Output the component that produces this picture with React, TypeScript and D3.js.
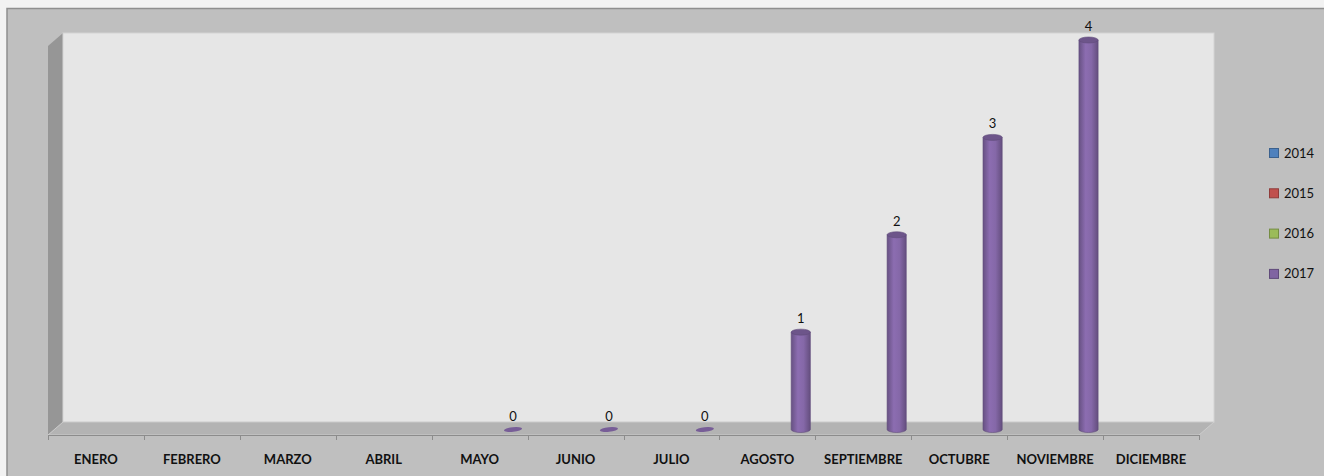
import { useEffect, useRef } from 'react'
import * as d3 from 'd3'

const MONTHS = ['ENERO', 'FEBRERO', 'MARZO', 'ABRIL', 'MAYO', 'JUNIO', 'JULIO', 'AGOSTO', 'SEPTIEMBRE', 'OCTUBRE', 'NOVIEMBRE', 'DICIEMBRE']
const SERIES = ['2014', '2015', '2016', '2017']
const COLORS = ['#4f81bd', '#c0504d', '#9bbb59', '#8064a2']
const V2014: (number | null)[] = [null, null, null, null, null, null, null, null, null, null, null, null]
const V2015: (number | null)[] = [null, null, null, null, null, null, null, null, null, null, null, null]
const V2016: (number | null)[] = [null, null, null, null, null, null, null, null, null, null, null, null]
const V2017: (number | null)[] = [null, null, null, null, 0, 0, 0, 1, 2, 3, 4, null]

export default function App() {
  const svgRef = useRef<SVGSVGElement>(null)

  useEffect(() => {
    const svg = d3.select(svgRef.current)
    svg.selectAll('*').remove()
    const W = 1324, H = 476
    const font = 'Lato, "Open Sans", sans-serif'

    // page + chart frame
    svg.append('rect').attr('width', W).attr('height', H).attr('fill', '#f2f2f2')
    svg.append('rect').attr('x', 7).attr('y', 8.5).attr('width', W).attr('height', H)
      .attr('fill', '#bfbfbf').attr('stroke', '#8e8e8e').attr('stroke-width', 1.5)

    // 3D walls
    const fx0 = 48, fx1 = 1199, fy = 435, depth = 15, dy = 13
    const bx0 = fx0 + depth, bx1 = fx1 + depth, by = fy - dy, top = 33
    const defs = svg.append('defs')
    // side wall
    svg.append('path')
      .attr('d', `M${fx0},${top + dy} L${bx0},${top} L${bx0},${by} L${fx0},${fy} Z`)
      .attr('fill', '#969696')
    // back wall
    svg.append('rect').attr('x', bx0).attr('y', top).attr('width', bx1 - bx0).attr('height', by - top)
      .attr('fill', '#e6e6e6').attr('stroke', '#d4d4d4').attr('stroke-width', 1)
    // floor
    svg.append('path')
      .attr('d', `M${fx0},${fy} L${bx0},${by} L${bx1},${by} L${fx1},${fy} Z`)
      .attr('fill', '#b3b3b3').attr('stroke', '#d0d0d0').attr('stroke-width', 0.8)

    const x = d3.scaleBand<string>().domain(MONTHS).range([fx0, fx1])
    const bw = x.bandwidth()
    const sub = d3.scaleBand<string>().domain(SERIES).range([bw * 0.07, bw * 0.87])
    const y = d3.scaleLinear().domain([0, 4]).range([429.5, 40])

    // axis line and ticks
    svg.append('line').attr('x1', fx0).attr('x2', fx1).attr('y1', fy + 0.5).attr('y2', fy + 0.5)
      .attr('stroke', '#8c8c8c').attr('stroke-width', 1)
    d3.range(MONTHS.length + 1).forEach(k => {
      const tx = Math.round(fx0 + k * bw) + 0.5
      svg.append('line').attr('x1', tx).attr('x2', tx).attr('y1', fy).attr('y2', fy + 5)
        .attr('stroke', '#8c8c8c')
    })
    svg.append('g').selectAll('text').data(MONTHS).join('text')
      .attr('x', d => x(d)! + bw / 2).attr('y', 464)
      .attr('text-anchor', 'middle').attr('font-family', font).attr('font-weight', 700)
      .attr('font-size', 13).attr('fill', '#111').text(d => d)

    // cylinders
    const all = [V2014, V2015, V2016, V2017]
    all.forEach((vals, si) => {
      const c = d3.color(COLORS[si])!
      const gid = `cyl-${si}`
      const lg = defs.append('linearGradient').attr('id', gid)
      lg.append('stop').attr('offset', '0%').attr('stop-color', c.darker(0.6).formatHex())
      lg.append('stop').attr('offset', '35%').attr('stop-color', c.brighter(0.25).formatHex())
      lg.append('stop').attr('offset', '65%').attr('stop-color', c.brighter(0.1).formatHex())
      lg.append('stop').attr('offset', '100%').attr('stop-color', c.darker(0.7).formatHex())
      vals.forEach((v, i) => {
        if (v == null) return
        const cx = x(MONTHS[i])! + sub(SERIES[si])! + sub.bandwidth() / 2 + depth / 2
        const rx = sub.bandwidth() / 2
        const ry = 3
        const y0 = y(0), y1 = y(v)
        const g = svg.append('g')
        if (v > 0) {
          g.append('path')
            .attr('d', `M${cx - rx},${y1} L${cx - rx},${y0} A${rx},${ry} 0 0 0 ${cx + rx},${y0} L${cx + rx},${y1} Z`)
            .attr('fill', `url(#${gid})`).attr('stroke', c.darker(0.8).formatHex()).attr('stroke-width', 0.6)
          g.append('ellipse').attr('cx', cx).attr('cy', y1).attr('rx', rx).attr('ry', ry)
            .attr('fill', c.darker(0.45).formatHex()).attr('stroke', c.darker(0.8).formatHex()).attr('stroke-width', 0.6)
        } else {
          g.append('ellipse').attr('cx', cx).attr('cy', y0).attr('rx', rx * 0.95).attr('ry', 2.3)
            .attr('transform', `rotate(-6 ${cx} ${y0})`)
            .attr('fill', c.darker(0.2).formatHex())
        }
        g.append('text').attr('x', cx).attr('y', y1 - 9)
          .attr('text-anchor', 'middle').attr('font-family', font).attr('font-size', 13)
          .attr('fill', '#111').text(String(v))
      })
    })

    // legend
    const leg = svg.append('g')
    SERIES.forEach((s, i) => {
      const ly = 153 + i * 40.3
      leg.append('rect').attr('x', 1269.5).attr('y', ly - 4.5).attr('width', 9).attr('height', 9)
        .attr('fill', COLORS[i]).attr('stroke', d3.color(COLORS[i])!.darker(0.8).formatHex()).attr('stroke-width', 1)
      leg.append('text').attr('x', 1284).attr('y', ly).attr('dy', '0.35em')
        .attr('font-family', font).attr('font-size', 13).attr('fill', '#111').text(s)
    })
  }, [])

  return (
    <div style={{ position: 'absolute', left: 0, top: 0, width: 1324, height: 476, overflow: 'hidden' }}>
      <svg ref={svgRef} width={1324} height={476} style={{ display: 'block' }} />
    </div>
  )
}
